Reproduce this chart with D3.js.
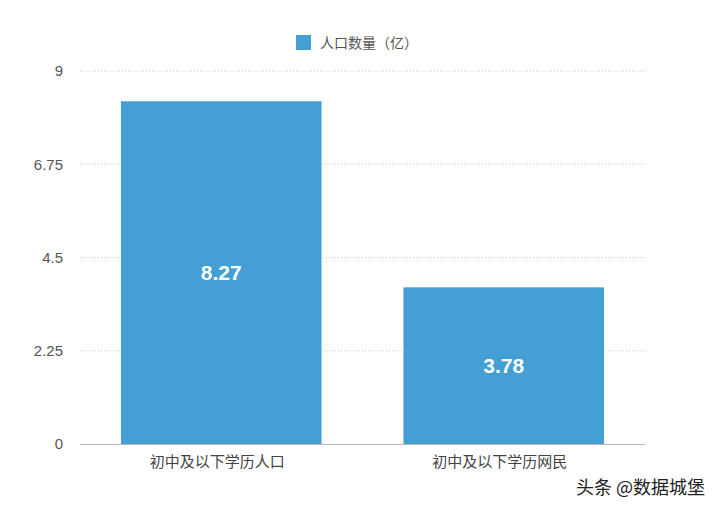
<!DOCTYPE html>
<html><head><meta charset="utf-8">
<script src="https://cdn.jsdelivr.net/npm/d3@7"></script>
<style>body{margin:0;background:#fff;} text{font-family:"Noto Sans CJK SC","Noto Sans",sans-serif;}</style>
</head><body>
<svg id="c" width="720" height="505"></svg>
<script>
const categories = ["初中及以下学历人口", "初中及以下学历网民"];
const values = [8.27, 3.78];
const yTicks = [0, 2.25, 4.5, 6.75, 9];
const seriesName = "人口数量（亿）";

const svg = d3.select("#c");
const m = {l: 80, r: 75, t: 71, b: 61};
const W = 720, H = 505;
const x = d3.scaleBand().domain(categories).range([m.l, W - m.r]).paddingInner(0.29).paddingOuter(0.145);
const y = d3.scaleLinear().domain([0, 9]).range([H - m.b, m.t]);
const color = "#44a0d4";

// grid
svg.append("g").selectAll("line").data(yTicks.filter(d => d > 0)).join("line")
  .attr("x1", m.l).attr("x2", W - m.r)
  .attr("y1", d => y(d)).attr("y2", d => y(d))
  .attr("stroke", "#c8c8c8").attr("stroke-dasharray", "1,2").attr("stroke-width", 1);

// y labels
const ya = svg.append("g").attr("transform", `translate(${m.l},0)`)
  .call(d3.axisLeft(y).tickValues(yTicks).tickSize(0).tickPadding(17).tickFormat(d => String(d)));
ya.select(".domain").remove();
ya.selectAll("text").attr("fill", "#555").style("font-size", "15px").style("font-family", "'Liberation Sans', Arial, sans-serif");

// bars
svg.append("g").selectAll("rect").data(values).join("rect")
  .attr("x", (d, i) => x(categories[i])).attr("width", x.bandwidth())
  .attr("y", d => y(d)).attr("height", d => y(0) - y(d)).attr("fill", color);

// value labels
svg.append("g").selectAll("text").data(values).join("text")
  .attr("x", (d, i) => x(categories[i]) + x.bandwidth() / 2)
  .attr("y", d => (y(d) + y(0)) / 2).attr("dy", "0.35em")
  .attr("text-anchor", "middle").attr("fill", "#fff")
  .style("font-size", "21px").style("font-weight", "bold")
  .style("font-family", "'Liberation Sans', Arial, sans-serif")
  .text(d => d.toFixed(2));

// x axis
const xa = svg.append("g").attr("transform", `translate(0,${y(0)})`)
  .call(d3.axisBottom(x).tickSize(0).tickPadding(12));
xa.select(".domain").attr("stroke", "#bbb").attr("d", `M${m.l},0.5H${W - m.r}`);
xa.selectAll("text").attr("fill", "#444").style("font-size", "15px").attr("dx", "-4");

// legend
const lg = svg.append("g");
lg.append("rect").attr("x", 296).attr("y", 35).attr("width", 15).attr("height", 15).attr("fill", color);
lg.append("text").attr("x", 320).attr("y", 43).attr("dy", "0.35em").attr("fill", "#555")
  .style("font-size", "14px").text(seriesName);

// watermark
svg.append("text").attr("x", 705).attr("y", 488).attr("dy", "0.35em").attr("text-anchor", "end")
  .attr("fill", "#222").style("font-size", "18px")
  .style("paint-order", "stroke").attr("stroke", "#fff").attr("stroke-width", 2)
  .text("头条 @数据城堡");
</script>
</body></html>
